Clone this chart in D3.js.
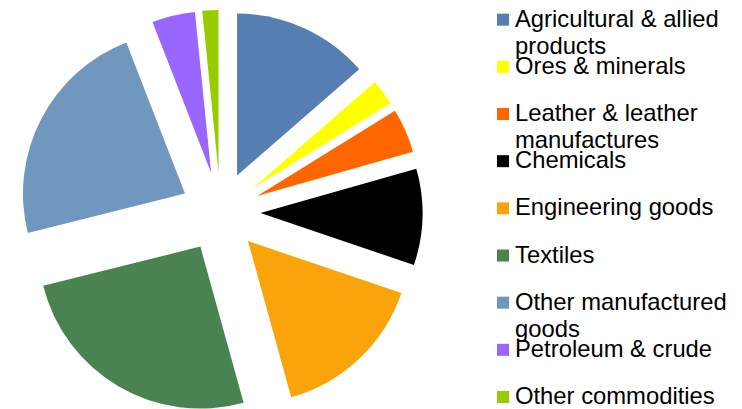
<!DOCTYPE html>
<html>
<head>
<meta charset="utf-8">
<script src="https://cdn.jsdelivr.net/npm/d3@7"></script>
<style>
  html, body { margin: 0; padding: 0; background: #ffffff; }
  svg { display: block; }
</style>
</head>
<body>
<svg id="chart" width="742" height="409"></svg>
<script>
const categories = [
  ["Agricultural & allied", "products"],
  ["Ores & minerals"],
  ["Leather & leather", "manufactures"],
  ["Chemicals"],
  ["Engineering goods"],
  ["Textiles"],
  ["Other manufactured", "goods"],
  ["Petroleum & crude"],
  ["Other commodities"]
];
const values = [13.6, 2.6, 4.4, 9.6, 15.5, 25.4, 23.0, 4.3, 1.6];
const colors = ["#567EB2", "#FFFF00", "#FF6600", "#000000", "#F9A40A", "#4A8352", "#7097BD", "#9966FF", "#99CC00"];

const svg = d3.select("#chart");
const cx = 220.5, cy = 212, radius = 162, explode = 40;

const pie = d3.pie().sort(null).value(d => d.v).startAngle(0).endAngle(2 * Math.PI);
const arc = d3.arc().innerRadius(0).outerRadius(radius);
const data = values.map((v, i) => ({ v, i }));

const g = svg.append("g").attr("transform", `translate(${cx},${cy})`);
g.selectAll("path").data(pie(data)).enter().append("path")
  .attr("d", arc)
  .attr("fill", d => colors[d.data.i])
  .attr("transform", d => {
    const m = (d.startAngle + d.endAngle) / 2;
    return `translate(${Math.sin(m) * explode},${-Math.cos(m) * explode})`;
  });

// legend
const legendY = d3.scaleLinear().domain([0, categories.length - 1]).range([26.7, 404]);
const lg = svg.append("g");
const items = lg.selectAll("g.item").data(categories).enter().append("g").attr("class", "item")
  .attr("transform", (d, i) => `translate(0,${legendY(i)})`);
items.append("rect")
  .attr("x", 497).attr("y", -13).attr("width", 12).attr("height", 12)
  .attr("fill", (d, i) => colors[i]);
items.each(function(lines) {
  const t = d3.select(this).append("text")
    .attr("x", 515).attr("y", 0)
    .attr("font-family", "'Liberation Sans', Arial, sans-serif")
    .attr("font-size", "23.8px")
    .attr("fill", "#000");
  lines.forEach((ln, k) => {
    t.append("tspan").attr("x", 515).attr("y", k * 27).text(ln);
  });
});
</script>
</body>
</html>
